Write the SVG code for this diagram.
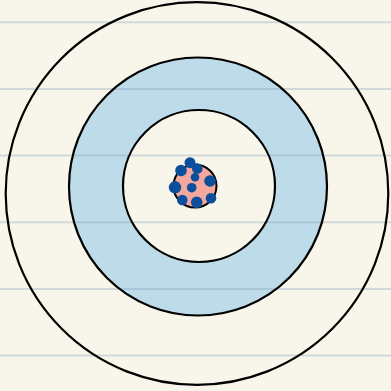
<svg xmlns="http://www.w3.org/2000/svg" width="391" height="391" viewBox="0 0 391 391">
<style>
.ring{fill:none;stroke:#000;stroke-width:2.2}
.rule{stroke:#8ca0be;stroke-opacity:0.35;stroke-width:2}
.dot{fill:#0b4f9c}
</style>
<rect width="391" height="391" fill="#f8f6ea"/>
<g id="band">
<path d="M198,57.5a129,129 0 1,0 0.01,0ZM199,110a76,76 0 1,1 -0.01,0Z" fill="#bedbe9" fill-rule="evenodd"/>
</g>
<g id="rules">
<line class="rule" x1="0" y1="22.3" x2="391" y2="22.3"/>
<line class="rule" x1="0" y1="89" x2="391" y2="89"/>
<line class="rule" x1="0" y1="155.6" x2="391" y2="155.6"/>
<line class="rule" x1="0" y1="222.3" x2="391" y2="222.3"/>
<line class="rule" x1="0" y1="289" x2="391" y2="289"/>
<line class="rule" x1="0" y1="355.6" x2="391" y2="355.6"/>
</g>
<g id="outer"><circle class="ring" cx="197" cy="193.5" r="191.3"/></g>
<g id="middle"><circle class="ring" cx="198" cy="186.5" r="129"/></g>
<g id="inner"><circle class="ring" cx="199" cy="186" r="76"/></g>
<g id="core">
<circle cx="195" cy="186" r="21.5" fill="#f4a79d" stroke="#000" stroke-width="2"/>
<circle class="dot" cx="190" cy="162.7" r="5.5"/>
<circle class="dot" cx="181" cy="170.5" r="5.8"/>
<circle class="dot" cx="197.3" cy="168.5" r="5.3"/>
<circle class="dot" cx="195" cy="177.3" r="4.3"/>
<circle class="dot" cx="210" cy="181" r="5.8"/>
<circle class="dot" cx="175" cy="187.3" r="6.2"/>
<circle class="dot" cx="191.7" cy="187.7" r="4.8"/>
<circle class="dot" cx="182.3" cy="200" r="5.3"/>
<circle class="dot" cx="196.7" cy="202.3" r="5.8"/>
<circle class="dot" cx="211" cy="198.3" r="5.3"/>
</g>
</svg>
